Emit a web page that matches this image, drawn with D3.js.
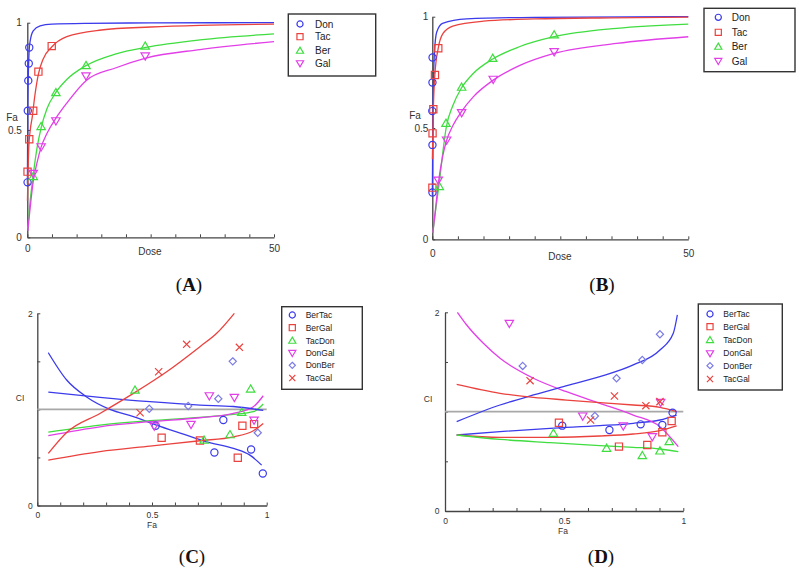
<!DOCTYPE html>
<html><head><meta charset="utf-8">
<script src="https://cdn.jsdelivr.net/npm/d3@7"></script>
<style>body{margin:0;background:#fff}svg{display:block;font-family:Arial,"Liberation Sans",sans-serif}</style>
</head><body><script>
// ---------- DATA ----------
const doseSeries = ["Don","Tac","Ber","Gal"];
const ciSeries = ["BerTac","BerGal","TacDon","DonGal","DonBer","TacGal"];
const doseTicks = [0,5,10,15,20,25,30,35,40,45,50];
const doseTickLabels = [0,50];
const faTicks = [0,0.25,0.5,0.75,1];
const faTickLabels = [0,0.5,1];
const faXTicks = [0,0.1,0.2,0.3,0.4,0.5,0.6,0.7,0.8,0.9,1];
const faXTickLabels = [0,0.5,1];
const ciTicks = [0,0.5,1,1.5,2];
const ciTickLabels = [0,2];

// Panel A: [dose, Fa]
const aDonPts = [[0.05,0.256],[0.1,0.59],[0.2,0.73],[0.3,0.81],[0.4,0.884]];
const aDonFit = [[0.02,0.25],[0.1,0.6],[0.2,0.75],[0.35,0.86],[0.55,0.91],[1.2,0.962],[2.6,0.985],[5,0.993],[12,0.997],[25,0.999],[50,1.0]];
const aTacPts = [[0.05,0.306],[0.4,0.457],[1.2,0.59],[2.25,0.772],[4.95,0.891]];
const aTacFit = [[0.03,0.17],[0.3,0.42],[0.6,0.5],[1.0,0.56],[1.5,0.655],[2.25,0.76],[3.2,0.83],[4.95,0.887],[8,0.935],[15,0.966],[25,0.98],[35,0.988],[50,0.993]];
const aBerPts = [[1.2,0.283],[2.8,0.516],[5.8,0.674],[11.9,0.80],[23.9,0.891]];
const aBerFit = [[0.1,0.04],[0.5,0.15],[1.2,0.29],[2,0.42],[2.8,0.51],[4,0.6],[5.8,0.675],[8,0.735],[11.9,0.8],[18,0.855],[24,0.885],[35,0.92],[50,0.948]];
const aGalPts = [[1.2,0.298],[2.8,0.422],[5.8,0.543],[11.9,0.752],[23.9,0.845]];
const aGalFit = [[0.1,0.03],[0.5,0.12],[1.2,0.26],[2,0.35],[2.8,0.42],[4,0.485],[5.8,0.555],[8,0.625],[11.9,0.73],[18,0.79],[24,0.835],[35,0.875],[50,0.912]];

// Panel B: [dose, Fa]
const bDonPts = [[0.03,0.21],[0.03,0.424],[0.0,0.576],[0.03,0.704],[0.05,0.817]];
const bDonFit = [[0.01,0.2],[0.1,0.5],[0.2,0.68],[0.4,0.83],[0.85,0.93],[2,0.97],[6.7,0.99],[20,0.997],[50,1.0]];
const bTacPts = [[0.02,0.232],[0.05,0.476],[0.2,0.584],[0.52,0.738],[1.17,0.858]];
const bTacFit = [[0.02,0.36],[0.2,0.58],[0.5,0.74],[1.17,0.86],[2.1,0.925],[4,0.958],[10,0.98],[20,0.99],[35,0.995],[50,0.998]];
const bBerPts = [[1.37,0.237],[2.67,0.521],[5.73,0.683],[11.8,0.813],[23.8,0.918]];
const bBerFit = [[0.1,0.03],[0.7,0.14],[1.4,0.26],[2,0.38],[2.7,0.5],[4,0.6],[5.7,0.68],[8,0.745],[11.8,0.81],[17,0.865],[23.8,0.91],[36,0.948],[50,0.967]];
const bGalPts = [[1.17,0.266],[2.8,0.446],[5.73,0.569],[11.9,0.719],[23.8,0.843]];
const bGalFit = [[0.1,0.03],[0.6,0.13],[1.17,0.25],[2,0.37],[2.8,0.445],[4,0.51],[5.73,0.575],[8,0.64],[11.9,0.715],[17,0.78],[23.8,0.835],[36,0.88],[50,0.91]];

// Panel C: [Fa, CI]
const cBerTacPts = [[0.516,0.83],[0.772,0.552],[0.811,0.889],[0.932,0.583],[0.983,0.333]];
const cBerTacFit = [[0.048,1.59],[0.128,1.306],[0.215,1.13],[0.317,1.0],[0.419,0.924],[0.516,0.84],[0.637,0.743],[0.738,0.663],[0.855,0.594],[0.927,0.524],[0.978,0.42]];
const cBerGalPts = [[0.542,0.705],[0.709,0.677],[0.874,0.497],[0.894,0.83],[0.945,0.847]];
const cBerGalFit = [[0.048,0.472],[0.273,0.56],[0.491,0.618],[0.709,0.674],[0.855,0.715],[0.942,0.778],[0.985,0.854]];
const cTacDonPts = [[0.426,1.20],[0.727,0.68],[0.84,0.736],[0.891,0.969],[0.93,1.212]];
const cTacDonFit = [[0.048,0.764],[0.273,0.837],[0.491,0.882],[0.709,0.917],[0.855,0.948],[0.942,0.976],[0.985,1.056]];
const cDonGalPts = [[0.51,0.826],[0.67,0.844],[0.75,1.142],[0.859,1.125],[0.945,0.889]];
const cDonGalFit = [[0.048,0.726],[0.273,0.819],[0.491,0.872],[0.709,0.913],[0.855,0.958],[0.942,1.028],[0.985,1.142]];
const cDonBerPts = [[0.488,1.007],[0.658,1.035],[0.789,1.111],[0.852,1.50],[0.961,0.757]];
const cDonBerFit = [[0.048,1.18],[0.273,1.125],[0.491,1.08],[0.709,1.045],[0.855,1.03],[0.985,0.99]];
const cTacGalPts = [[0.448,0.965],[0.529,1.392],[0.651,1.677],[0.881,1.646]];
const cTacGalFit = [[0.048,0.542],[0.128,0.76],[0.273,0.958],[0.419,1.167],[0.564,1.392],[0.709,1.653],[0.782,1.792],[0.859,2.0]];

// Panel D: [Fa, CI]
const dBerTacPts = [[0.492,0.859],[0.69,0.815],[0.821,0.872],[0.912,0.866],[0.955,0.99]];
const dBerTacFit = [[0.049,0.765],[0.231,0.799],[0.441,0.832],[0.65,0.859],[0.79,0.883],[0.902,0.916],[0.972,0.966]];
const dBerGalPts = [[0.478,0.889],[0.73,0.648],[0.849,0.664],[0.912,0.792],[0.951,0.906]];
const dBerGalFit = [[0.049,0.765],[0.231,0.742],[0.441,0.742],[0.65,0.755],[0.79,0.775],[0.902,0.809],[0.972,0.856]];
const dTacDonPts = [[0.455,0.782],[0.678,0.631],[0.828,0.557],[0.902,0.604],[0.941,0.698]];
const dTacDonFit = [[0.049,0.765],[0.231,0.721],[0.441,0.688],[0.65,0.658],[0.79,0.641],[0.902,0.624],[0.979,0.597]];
const dDonGalPts = [[0.27,1.889],[0.578,0.956],[0.748,0.856],[0.87,0.748],[0.905,1.094]];
const dDonGalFit = [[0.052,2.0],[0.091,1.872],[0.161,1.688],[0.231,1.537],[0.371,1.336],[0.51,1.201],[0.65,1.084],[0.79,0.966],[0.902,0.849],[0.979,0.648]];
const dDonBerPts = [[0.326,1.46],[0.629,0.956],[0.72,1.336],[0.828,1.52],[0.902,1.779]];
const dDonBerFit = [[0.049,0.9],[0.231,1.067],[0.371,1.168],[0.497,1.252],[0.65,1.352],[0.79,1.47],[0.902,1.621],[0.958,1.789],[0.975,1.973]];
const dTacGalPts = [[0.357,1.312],[0.611,0.916],[0.711,1.158],[0.843,1.06],[0.902,1.101]];
const dTacGalFit = [[0.049,1.275],[0.231,1.185],[0.371,1.144],[0.51,1.117],[0.65,1.091],[0.79,1.067],[0.902,1.044],[0.972,1.0]];

// ---------- STYLE ----------
const BLUE="#3b3bec", RED="#ea423e", GREEN="#3fdd3f", MAG="#e23fe8", DIA="#7b7be6";
const styles = {
  Don:{c:BLUE,lc:BLUE,s:"circle"}, Tac:{c:RED,lc:RED,s:"square"}, Ber:{c:GREEN,lc:GREEN,s:"up"}, Gal:{c:MAG,lc:MAG,s:"down"},
  BerTac:{c:BLUE,lc:BLUE,s:"circle"}, BerGal:{c:RED,lc:RED,s:"square"}, TacDon:{c:GREEN,lc:GREEN,s:"up"},
  DonGal:{c:MAG,lc:MAG,s:"down"}, DonBer:{c:DIA,lc:BLUE,s:"diamond"}, TacGal:{c:RED,lc:RED,s:"x"}
};
function symPath(t,k){
  k=k||1;
  const r=3.6*k;
  switch(t){
    case "circle": return `M${-r},0A${r},${r} 0 1,0 ${r},0A${r},${r} 0 1,0 ${-r},0Z`;
    case "square": return `M${-r},${-r}H${r}V${r}H${-r}Z`;
    case "up": return `M0,${-4.2*k}L${4.2*k},${3*k}L${-4.2*k},${3*k}Z`;
    case "down": return `M0,${4.2*k}L${4.2*k},${-3*k}L${-4.2*k},${-3*k}Z`;
    case "diamond": return `M0,${-r}L${r},0L0,${r}L${-r},0Z`;
    case "x": return `M${-r},${-r}L${r},${r}M${-r},${r}L${r},${-r}`;
  }
}

const svg = d3.select("body").append("svg").attr("width",799).attr("height",573);

function panel(cfg){
  const g = svg.append("g");
  const x = d3.scaleLinear().domain(cfg.xDomain).range([cfg.x0,cfg.x1]);
  const y = d3.scaleLinear().domain(cfg.yDomain).range([cfg.y0,cfg.y1]);
  const fmt = labels => d => labels.includes(d) ? String(d) : "";
  const xa = g.append("g").attr("transform",`translate(0,${cfg.y0})`)
    .call(d3.axisBottom(x).tickValues(cfg.xTicks).tickFormat(fmt(cfg.xLabels)).tickSizeInner(-3).tickSizeOuter(0).tickPadding(cfg.xPad));
  const ya = g.append("g").attr("transform",`translate(${cfg.x0},0)`)
    .call(d3.axisLeft(y).tickValues(cfg.yTicks).tickFormat(fmt(cfg.yLabels)).tickSizeInner(-3).tickSizeOuter(0).tickPadding(cfg.yPad));
  [xa,ya].forEach(a=>{
    a.select(".domain").attr("stroke","#444").attr("stroke-width",1.3);
    a.selectAll(".tick line").attr("stroke","#444").attr("stroke-width",1);
    a.selectAll("text").attr("font-size",cfg.fs).attr("fill","#333").attr("font-family","Arial, 'Liberation Sans', sans-serif");
  });
  if(cfg.refLine){
    g.append("line").attr("x1",x(cfg.xDomain[0])).attr("x2",x(cfg.xDomain[1]))
      .attr("y1",y(1)).attr("y2",y(1)).attr("stroke","#a8a8a8").attr("stroke-width",1.6);
  }
  const line = d3.line().x(d=>x(d[0])).y(d=>y(d[1])).curve(d3.curveMonotoneX);
  cfg.series.forEach(s=>{
    g.append("path").attr("d",line(s.fit)).attr("fill","none")
      .attr("stroke",styles[s.name].lc).attr("stroke-width",1.3);
  });
  cfg.series.forEach(s=>{
    const st=styles[s.name];
    g.selectAll(null).data(s.pts).join("path")
      .attr("transform",d=>`translate(${x(d[0])},${y(d[1])})`)
      .attr("d",symPath(st.s,1)).attr("fill","none").attr("stroke",st.c).attr("stroke-width",1.2);
  });
  // axis titles
  g.append("text").attr("x",cfg.yTitle[0]).attr("y",cfg.yTitle[1]).attr("dy","0.35em").attr("text-anchor","middle")
    .attr("font-size",cfg.fs).attr("fill","#333").text(cfg.yTitle[2]);
  g.append("text").attr("x",cfg.xTitle[0]).attr("y",cfg.xTitle[1]).attr("dy","0.35em").attr("text-anchor","middle")
    .attr("font-size",cfg.fs).attr("fill","#333").text(cfg.xTitle[2]);
  // legend
  const L = cfg.legend;
  g.append("rect").attr("x",L.x).attr("y",L.y).attr("width",L.w).attr("height",L.h)
    .attr("fill","#fff").attr("stroke","#333").attr("stroke-width",1.4);
  cfg.names.forEach((n,i)=>{
    const st=styles[n];
    g.append("path").attr("transform",`translate(${L.mx},${L.rows[i]})`).attr("d",symPath(st.s,0.85))
      .attr("fill","none").attr("stroke",st.c).attr("stroke-width",1.2);
    g.append("text").attr("x",L.tx).attr("y",L.rows[i]).attr("dy","0.35em").attr("font-size",L.fs)
      .attr("fill","#222").text(n);
  });
  // panel letter
  const t = svg.append("text").attr("x",cfg.letter[0]).attr("y",cfg.letter[1]).attr("dy","0.35em")
    .attr("text-anchor","middle").attr("font-family","'Liberation Serif','Times New Roman',serif")
    .attr("font-size",19).attr("fill","#111");
  t.append("tspan").text("(");
  t.append("tspan").attr("font-weight","bold").text(cfg.letter[2]);
  t.append("tspan").text(")");
}

panel({xDomain:[0,50],yDomain:[0,1],x0:27.3,x1:274,y0:237.3,y1:22.7,
  xTicks:doseTicks,xLabels:doseTickLabels,yTicks:faTicks,yLabels:faTickLabels,xPad:7.5,yPad:5.5,fs:10,
  series:[{name:"Don",pts:aDonPts,fit:aDonFit},{name:"Tac",pts:aTacPts,fit:aTacFit},{name:"Ber",pts:aBerPts,fit:aBerFit},{name:"Gal",pts:aGalPts,fit:aGalFit}],
  names:doseSeries, yTitle:[12,117,"Fa"], xTitle:[150,251,"Dose"],
  legend:{x:288.3,y:14,w:87.4,h:62,mx:300,tx:315,rows:[24,36.7,50.7,63.3],fs:10},
  letter:[189,284,"A"]});

panel({xDomain:[0,50],yDomain:[0,1],x0:432.3,x1:688.3,y0:239.3,y1:16.7,
  xTicks:doseTicks,xLabels:doseTickLabels,yTicks:faTicks,yLabels:faTickLabels,xPad:10.5,yPad:4,fs:10,
  series:[{name:"Don",pts:bDonPts,fit:bDonFit},{name:"Tac",pts:bTacPts,fit:bTacFit},{name:"Ber",pts:bBerPts,fit:bBerFit},{name:"Gal",pts:bGalPts,fit:bGalFit}],
  names:doseSeries, yTitle:[415,115,"Fa"], xTitle:[560,256,"Dose"],
  legend:{x:704,y:8.3,w:91,h:63.4,mx:718.3,tx:731.7,rows:[17.3,32.3,46.7,61],fs:10},
  letter:[602,284,"B"]});

panel({xDomain:[0,1],yDomain:[0,2],x0:37.3,x1:266.7,y0:505.5,y1:313.3,refLine:true,
  xTicks:faXTicks,xLabels:faXTickLabels,yTicks:ciTicks,yLabels:ciTickLabels,xPad:6.5,yPad:4.5,fs:8.5,
  series:[{name:"BerTac",pts:cBerTacPts,fit:cBerTacFit},{name:"BerGal",pts:cBerGalPts,fit:cBerGalFit},{name:"TacDon",pts:cTacDonPts,fit:cTacDonFit},
          {name:"DonGal",pts:cDonGalPts,fit:cDonGalFit},{name:"DonBer",pts:cDonBerPts,fit:cDonBerFit},{name:"TacGal",pts:cTacGalPts,fit:cTacGalFit}],
  names:ciSeries, yTitle:[20,398,"CI"], xTitle:[152,525,"Fa"],
  legend:{x:281.7,y:306.7,w:80.6,h:82.6,mx:292.3,tx:305.7,rows:[315,327.7,340.7,353,365.3,378],fs:8.5},
  letter:[192,556,"C"]});

panel({xDomain:[0,1],yDomain:[0,2],x0:445,x1:683.3,y0:511,y1:312.3,refLine:true,
  xTicks:faXTicks,xLabels:faXTickLabels,yTicks:ciTicks,yLabels:ciTickLabels,xPad:6.7,yPad:5.5,fs:8.5,
  series:[{name:"BerTac",pts:dBerTacPts,fit:dBerTacFit},{name:"BerGal",pts:dBerGalPts,fit:dBerGalFit},{name:"TacDon",pts:dTacDonPts,fit:dTacDonFit},
          {name:"DonGal",pts:dDonGalPts,fit:dDonGalFit},{name:"DonBer",pts:dDonBerPts,fit:dDonBerFit},{name:"TacGal",pts:dTacGalPts,fit:dTacGalFit}],
  names:ciSeries, yTitle:[428,399,"CI"], xTitle:[563,531,"Fa"],
  legend:{x:698.3,y:304,w:84,h:86,mx:710,tx:723.3,rows:[314,326.7,340,353.3,365.7,379],fs:8.5},
  letter:[601,556,"D"]});
</script></body></html>
